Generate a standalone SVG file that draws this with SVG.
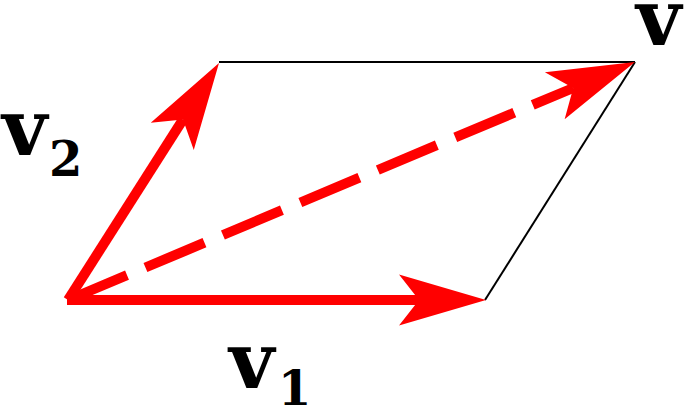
<svg xmlns="http://www.w3.org/2000/svg" width="685" height="407" viewBox="0 0 685 407">
<style>
.vec{stroke:#ff0000;stroke-width:10;fill:none;stroke-linecap:butt}
.edge{stroke:#000;stroke-width:2;fill:none}
.lbl{font-family:"DejaVu Serif",serif;font-weight:bold;fill:#000}
.big{font-size:78px}
.sub{font-size:48px}
</style>
<defs>
<marker id="head" markerUnits="userSpaceOnUse" markerWidth="100" markerHeight="60" viewBox="-25 -30 100 60" refX="0" refY="0" orient="auto" overflow="visible">
<path d="M67,0 L-20,-25.5 L0,0 L-20,25.5 Z" fill="#ff0000"/>
</marker>
</defs>
<g id="edges">
<line class="edge" x1="219" y1="62" x2="635" y2="62"/>
<line class="edge" x1="485" y1="300" x2="635" y2="62"/>
</g>
<g id="connectors">
<line id="v1" class="vec" x1="67" y1="300" x2="419" y2="300" marker-end="url(#head)"/>
<line id="v2" class="vec" x1="68" y1="300" x2="183" y2="119.5" marker-end="url(#head)"/>
<line id="v" class="vec" x1="68" y1="300" x2="573.2" y2="88" stroke-dasharray="64 20" marker-end="url(#head)"/>
</g>
<g id="label-v"><text class="lbl big" x="636" y="45">v</text></g>
<g id="label-v2"><text class="lbl big" x="2" y="155">v</text><text class="lbl sub" x="49" y="176">2</text></g>
<g id="label-v1"><text class="lbl big" x="229" y="388">v</text><text class="lbl sub" x="278" y="405">1</text></g>
</svg>
